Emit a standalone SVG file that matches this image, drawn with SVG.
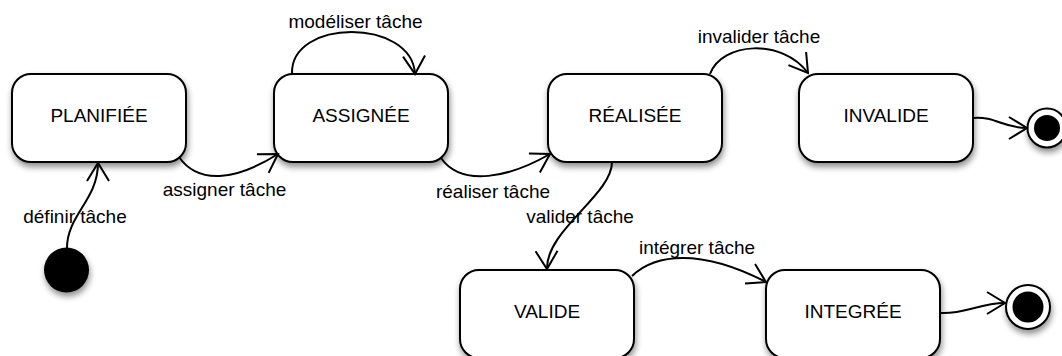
<svg xmlns="http://www.w3.org/2000/svg" width="1062" height="356" viewBox="0 0 1062 356">
<style>
.state{fill:#fff;stroke:#000;stroke-width:2}
.lbl{font-family:"Liberation Sans",Arial,sans-serif;font-size:19px;fill:#000;text-anchor:middle}
.edge{fill:none;stroke:#000;stroke-width:2;marker-end:url(#arrow)}
</style>
<defs>
<filter id="shadow" x="-20%" y="-20%" width="140%" height="150%">
<feGaussianBlur in="SourceAlpha" stdDeviation="3"/>
<feOffset dx="1" dy="4" result="b"/>
<feComponentTransfer><feFuncA type="linear" slope="0.45"/></feComponentTransfer>
<feMerge><feMergeNode/><feMergeNode in="SourceGraphic"/></feMerge>
</filter>
<marker id="arrow" markerUnits="userSpaceOnUse" markerWidth="30" markerHeight="30" viewBox="-25 -15 30 30" refX="0" refY="0" orient="auto" overflow="visible">
<path d="M -18 -11 L 0 0 L -18 11" fill="none" stroke="#000" stroke-width="2"/>
</marker>
</defs>
<rect width="1062" height="356" fill="#fff"/>

<g id="initial"><circle cx="66.5" cy="270" r="22.5" fill="#000" filter="url(#shadow)"/></g>

<g id="planifiee"><rect class="state" x="12" y="74" width="174" height="88" rx="19" filter="url(#shadow)"/><text class="lbl" x="99" y="122">PLANIFIÉE</text></g>
<g id="assignee"><rect class="state" x="274" y="74" width="174" height="88" rx="19" filter="url(#shadow)"/><text class="lbl" x="361" y="122">ASSIGNÉE</text></g>
<g id="realisee"><rect class="state" x="548" y="74" width="174" height="88" rx="19" filter="url(#shadow)"/><text class="lbl" x="635" y="122">RÉALISÉE</text></g>
<g id="invalide"><rect class="state" x="799" y="74" width="174" height="88" rx="19" filter="url(#shadow)"/><text class="lbl" x="886" y="122">INVALIDE</text></g>
<g id="valide"><rect class="state" x="460" y="270" width="174" height="88" rx="19" filter="url(#shadow)"/><text class="lbl" x="547" y="318">VALIDE</text></g>
<g id="integree"><rect class="state" x="766" y="270" width="174" height="88" rx="19" filter="url(#shadow)"/><text class="lbl" x="853" y="318">INTEGRÉE</text></g>

<g id="final1" filter="url(#shadow)"><circle cx="1047" cy="128" r="19.5" fill="#fff" stroke="#000" stroke-width="2"/><circle cx="1047" cy="128" r="13" fill="#000"/></g>
<g id="final2" filter="url(#shadow)"><circle cx="1028" cy="307" r="22" fill="#fff" stroke="#000" stroke-width="2"/><circle cx="1028" cy="307" r="15.5" fill="#000"/></g>

<g id="connectors">
<path class="edge" d="M 67 248 C 67 215, 98 200, 98 163"/>
<path class="edge" d="M 179 157 C 200 187, 240 178, 278 154"/>
<path class="edge" d="M 441 158 C 462 188, 510 177, 550 154"/>
<path class="edge" d="M 292 74 C 290 18, 412 18, 415 74"/>
<path class="edge" d="M 710 74 C 722 42, 782 38, 808 73"/>
<path class="edge" d="M 973 118 C 995 116, 1003 128, 1027 128"/>
<path class="edge" d="M 612 162 C 612 195, 546 230, 547 269"/>
<path class="edge" d="M 632 276 C 655 254, 700 248, 766 282"/>
<path class="edge" d="M 941 313 C 965 314, 980 303, 1005 303"/>
</g>

<g id="labels">
<text class="lbl" x="355.5" y="28">modéliser tâche</text>
<text class="lbl" x="224.5" y="196">assigner tâche</text>
<text class="lbl" x="75" y="223">définir tâche</text>
<text class="lbl" x="493" y="198">réaliser tâche</text>
<text class="lbl" x="580" y="223">valider tâche</text>
<text class="lbl" x="759" y="43">invalider tâche</text>
<text class="lbl" x="697" y="254">intégrer tâche</text>
</g>
</svg>
